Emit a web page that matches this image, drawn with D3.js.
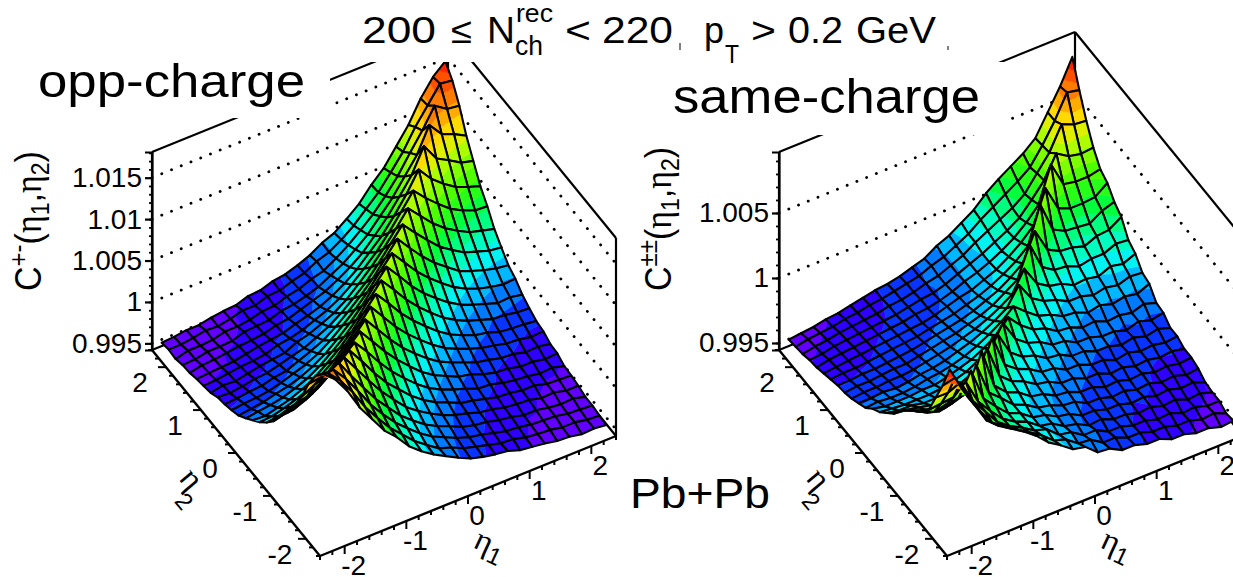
<!DOCTYPE html>
<html>
<head>
<meta charset="utf-8">
<script src="https://cdn.jsdelivr.net/npm/d3@7"></script>
<style>
  body { margin: 0; background: #fff; }
  svg { display: block; font-family: "Liberation Sans", sans-serif; }
</style>
</head>
<body>
<svg id="chart" width="1233" height="577"></svg>
<script>
// bin centres, same for eta1 and eta2
var etaCentres = [-2.3,-2.1,-1.9,-1.7,-1.5,-1.3,-1.1,-0.9,-0.7,-0.5,-0.3,-0.1,0.1,0.3,0.5,0.7,0.9,1.1,1.3,1.5,1.7,1.9,2.1,2.3];
var etaTicks = [-2,-1,0,1,2];
var oppZTicks = [0.995,1,1.005,1.01,1.015];
var sameZTicks = [0.995,1,1.005];

// C(eta1,eta2), (C-1)*10^4, rows are eta2, columns are eta1
var oppCharge = [
[154,141,121,95,75,55,41,24,12,2,-6,-14,-21,-25,-28,-30,-35,-37,-39,-42,-43,-46,-45,-47],
[141,138,123,103,79,60,42,28,14,3,-7,-12,-19,-23,-27,-31,-32,-36,-38,-39,-42,-42,-45,-46],
[121,123,126,109,88,66,48,32,19,7,-3,-10,-17,-22,-25,-29,-33,-34,-37,-38,-39,-42,-43,-44],
[95,103,109,118,96,76,56,40,24,12,1,-7,-13,-20,-24,-26,-30,-32,-36,-36,-39,-41,-40,-44],
[75,79,88,96,108,88,68,49,33,18,7,-2,-10,-16,-20,-25,-27,-31,-33,-34,-38,-37,-41,-41],
[55,60,66,76,88,100,81,61,43,29,15,4,-5,-11,-18,-21,-25,-29,-30,-33,-33,-37,-38,-39],
[41,42,48,56,68,81,93,76,57,40,26,13,2,-6,-12,-17,-23,-24,-28,-31,-32,-35,-34,-38],
[24,28,32,40,49,61,76,90,72,54,38,24,11,1,-6,-13,-16,-22,-26,-27,-31,-31,-34,-33],
[12,14,19,24,33,43,57,72,88,70,52,36,23,11,1,-6,-12,-18,-21,-25,-26,-30,-29,-32],
[2,3,7,12,18,29,40,54,70,87,69,51,36,23,11,1,-6,-12,-17,-20,-24,-25,-28,-27],
[-6,-7,-3,1,7,15,26,38,52,69,86,69,51,36,23,11,1,-6,-12,-15,-20,-22,-23,-25],
[-14,-12,-10,-7,-2,4,13,24,36,51,69,86,69,51,36,23,11,2,-5,-10,-15,-16,-19,-20],
[-21,-19,-17,-13,-10,-5,2,11,23,36,51,69,86,69,51,36,24,13,4,-2,-7,-12,-11,-14],
[-25,-23,-22,-20,-16,-11,-6,1,11,23,36,51,69,86,69,52,38,26,15,7,1,-3,-6,-5],
[-28,-27,-25,-24,-20,-18,-12,-6,1,11,23,36,51,69,87,70,54,40,29,18,12,7,3,1],
[-30,-31,-29,-26,-25,-21,-17,-13,-6,1,11,23,36,52,70,88,72,57,43,33,24,19,14,12],
[-35,-32,-33,-30,-27,-25,-23,-16,-12,-6,1,11,24,38,54,72,91,76,61,49,40,32,28,24],
[-37,-36,-34,-32,-31,-29,-24,-22,-18,-12,-6,2,13,26,40,57,76,96,81,68,56,48,42,41],
[-39,-38,-37,-36,-33,-30,-28,-26,-21,-17,-12,-5,4,15,29,43,61,81,105,88,76,66,60,55],
[-42,-39,-38,-36,-34,-33,-31,-27,-25,-20,-15,-10,-2,7,18,33,49,68,88,117,96,88,79,75],
[-43,-42,-39,-39,-38,-33,-32,-31,-26,-24,-20,-15,-7,1,12,24,40,56,76,96,126,109,103,95],
[-46,-42,-42,-41,-37,-37,-35,-31,-30,-25,-22,-16,-12,-3,7,19,32,48,66,88,109,133,123,121],
[-45,-45,-43,-40,-41,-38,-34,-34,-29,-28,-23,-19,-11,-6,3,14,28,42,60,79,103,123,143,141],
[-47,-46,-44,-44,-41,-39,-38,-33,-32,-27,-25,-20,-14,-5,1,12,24,41,55,75,95,121,141,154]
];

var sameCharge = [
[83,64,48,32,24,18,12,5,-4,-10,-17,-19,-27,-28,-33,-33,-36,-36,-40,-40,-43,-43,-46,-45],
[64,66,48,33,20,13,7,1,-5,-13,-16,-23,-24,-30,-30,-34,-34,-37,-37,-40,-40,-43,-42,-46],
[48,48,52,34,22,10,3,-2,-8,-11,-19,-21,-27,-27,-32,-32,-35,-35,-38,-37,-41,-40,-43,-43],
[32,33,34,42,23,12,2,-4,-8,-15,-17,-23,-25,-30,-29,-33,-33,-36,-35,-38,-37,-41,-40,-43],
[24,20,22,23,40,15,5,-4,-8,-15,-17,-22,-24,-29,-29,-32,-32,-35,-34,-37,-36,-39,-38,-42],
[18,13,10,12,15,34,9,1,-8,-12,-18,-20,-24,-25,-30,-30,-33,-32,-35,-34,-37,-36,-39,-38],
[12,7,3,2,5,9,34,4,-5,-9,-16,-18,-23,-24,-28,-28,-32,-31,-34,-33,-36,-35,-37,-36],
[5,1,-2,-4,-3,0,4,26,1,-7,-11,-17,-19,-24,-24,-28,-28,-32,-31,-34,-33,-35,-34,-36],
[-4,-5,-7,-9,-9,-7,-4,1,24,-1,-8,-12,-18,-19,-24,-24,-28,-28,-32,-30,-33,-32,-34,-33],
[-10,-12,-12,-14,-14,-13,-10,-6,-1,16,-2,-9,-12,-18,-19,-24,-24,-28,-28,-31,-29,-32,-30,-33],
[-16,-17,-18,-18,-18,-17,-15,-12,-7,-2,14,-2,-9,-12,-18,-19,-24,-24,-27,-27,-30,-27,-30,-28],
[-20,-22,-22,-22,-21,-21,-19,-16,-13,-8,-2,8,-2,-9,-12,-18,-19,-23,-22,-26,-25,-27,-24,-27],
[-26,-25,-26,-26,-25,-23,-22,-20,-17,-13,-8,-2,6,-2,-9,-12,-17,-18,-22,-20,-23,-21,-23,-19],
[-29,-29,-28,-29,-28,-26,-25,-23,-20,-17,-13,-8,-2,12,-2,-8,-11,-16,-16,-19,-17,-19,-16,-17],
[-32,-31,-31,-30,-30,-29,-27,-25,-23,-20,-17,-13,-8,-2,14,-1,-7,-9,-14,-13,-15,-11,-13,-9],
[-34,-33,-33,-32,-31,-31,-29,-27,-25,-23,-20,-17,-13,-7,-1,22,1,-5,-6,-10,-8,-8,-4,-5],
[-35,-35,-34,-34,-33,-32,-31,-29,-27,-25,-23,-20,-16,-12,-6,1,22,4,-1,-2,-5,-1,0,6],
[-37,-36,-36,-35,-34,-33,-32,-31,-29,-27,-25,-22,-19,-15,-10,-4,4,32,9,4,3,2,8,11],
[-39,-38,-37,-36,-35,-34,-33,-32,-31,-29,-26,-23,-21,-17,-13,-7,0,9,34,15,11,11,12,19],
[-41,-39,-38,-37,-36,-35,-34,-33,-31,-30,-28,-25,-21,-18,-14,-9,-3,5,15,42,23,21,21,23],
[-42,-41,-39,-38,-37,-36,-35,-34,-32,-30,-29,-26,-22,-18,-14,-9,-4,2,12,23,40,34,32,33],
[-44,-42,-41,-39,-38,-37,-36,-34,-33,-31,-28,-26,-22,-18,-12,-7,-2,3,10,22,34,52,48,47],
[-45,-43,-42,-41,-39,-38,-36,-35,-33,-31,-29,-25,-22,-17,-12,-5,1,7,13,20,33,48,66,64],
[-46,-45,-44,-42,-41,-39,-37,-35,-34,-32,-29,-26,-20,-16,-10,-4,5,12,18,24,32,48,64,83]
];

// colours of the palette against height fraction
var paletteStops = [0,0.09,0.125,0.155,0.2,0.26,0.31,0.39,0.47,0.56,0.66,0.76,0.87,0.97,1];
var paletteColours = ["#6a00ff","#6000ff","#3000ff","#1010ff","#0060ff","#00a0ff","#00f0ff","#00ffb0","#00ff40","#40ff00","#a0ff00","#ffe800","#ff8000","#ff2800","#ff1000"];
var nBands = 20;

var svg = d3.select("#chart");
var width = 1233, height = 577;
var wallH = 198;

var palette = d3.scaleLinear().domain(paletteStops).range(paletteColours).clamp(true);
var etaDomain = [-2.4, 2.4];

// one side of the clip of a polygon by a z level
function clipLevel(poly, level, keepAbove) {
    var out = [];
    poly.forEach(function(p, i) {
        var q = poly[(i + 1) % poly.length];
        var pIn = keepAbove ? p.z >= level : p.z <= level;
        var qIn = keepAbove ? q.z >= level : q.z <= level;
        if (pIn) out.push(p);
        if (pIn !== qIn) {
            var t = (level - p.z) / (q.z - p.z);
            out.push({ x: p.x + t * (q.x - p.x), y: p.y + t * (q.y - p.y), z: level });
        }
    });
    return out;
}

var polyLine = d3.line().x(function(d) { return d.x; }).y(function(d) { return d.y; }).curve(d3.curveLinearClosed);

function drawPanel(cfg) {
    var g = svg.append("g");
    var ox = cfg.bx, oy = cfg.by; // bottom corner of the floor

    var x1 = d3.scaleLinear().domain(etaDomain).range([0, 296]);
    var y1 = d3.scaleLinear().domain(etaDomain).range([0, -120]);
    var x2 = d3.scaleLinear().domain(etaDomain).range([0, -168]);
    var y2 = d3.scaleLinear().domain(etaDomain).range([0, -206]);
    var lift = d3.scaleLinear().domain([cfg.zMin, cfg.zMax]).range([0, -wallH]);

    function project(e1, e2, z) {
        return { x: ox + x1(e1) + x2(e2), y: oy + y1(e1) + y2(e2) + lift(z), z: z };
    }
    function seg(a, b, w, dotted) {
        return g.append("line").attr("x1", a.x).attr("y1", a.y).attr("x2", b.x).attr("y2", b.y)
            .attr("stroke", "#000").attr("stroke-width", w)
            .attr("stroke-dasharray", dotted ? "0.1 10.4" : null)
            .attr("stroke-linecap", dotted ? "round" : "butt");
    }

    var lo = -2.4, hi = 2.4;
    var zb = cfg.zMin, zt = cfg.zMax;

    // dotted lines on the two walls
    cfg.zTicks.forEach(function(z) {
        seg(project(lo, hi, z), project(hi, hi, z), 2.8, true);
        seg(project(hi, hi, z), project(hi, lo, z), 2.8, true);
    });

    // box
    seg(project(lo, hi, zb), project(hi, hi, zb), 2.2);
    seg(project(hi, lo, zb), project(hi, hi, zb), 2.2);
    seg(project(lo, hi, zb), project(lo, hi, zt), 2.2);
    seg(project(lo, hi, zt), project(hi, hi, zt), 2.2);
    seg(project(hi, hi, zt), project(hi, lo, zt), 2.2);
    seg(project(hi, hi, zb), project(hi, hi, zt), 2.2);
    seg(project(hi, lo, zb), project(hi, lo, zt), 2.2);

    // floor edges with ticks
    seg(project(lo, hi, zb), project(lo, lo, zb), 2.4);
    seg(project(lo, lo, zb), project(hi, lo, zb), 2.4);
    d3.range(-24, 25, 2).map(function(d) { return d / 10; }).forEach(function(e) {
        var major = e % 1 === 0;
        var a = project(lo, e, zb);
        g.append("line").attr("x1", a.x).attr("y1", a.y).attr("x2", a.x - (major ? 8 : 4)).attr("y2", a.y)
            .attr("stroke", "#000").attr("stroke-width", 2);
        var b = project(e, lo, zb);
        g.append("line").attr("x1", b.x).attr("y1", b.y).attr("x2", b.x).attr("y2", b.y + (major ? 8 : 4))
            .attr("stroke", "#000").attr("stroke-width", 2);
    });
    etaTicks.forEach(function(e) {
        var a = project(lo, e, zb);
        g.append("text").attr("x", a.x - 26).attr("y", a.y + 25).attr("text-anchor", "middle")
            .attr("font-size", 28).text(e);
        var b = project(e, lo, zb);
        g.append("text").attr("x", b.x + 9).attr("y", b.y + 29).attr("text-anchor", "middle")
            .attr("font-size", 28).text(e);
    });

    // z axis
    var zScale = d3.scaleLinear().domain([cfg.zMin, cfg.zMax]).range([oy + y2(hi), oy + y2(hi) - wallH]);
    var zAxis = d3.axisLeft(zScale).tickValues(cfg.zTicks).tickSize(7).tickPadding(3).tickFormat(function(d) { return String(d); });
    var zg = g.append("g").attr("transform", "translate(" + (ox + x2(hi)) + ",0)").call(zAxis);
    zg.selectAll("text").attr("font-size", 28).attr("font-family", "Liberation Sans").attr("fill", "#000");
    zg.selectAll("line,path").attr("stroke", "#000").attr("stroke-width", 2.2);
    var zMinor = d3.axisLeft(zScale).tickValues(d3.range(0.995, cfg.zMax, 0.001)).tickSize(3).tickFormat("");
    var zm = g.append("g").attr("transform", "translate(" + (ox + x2(hi)) + ",0)").call(zMinor);
    zm.select("path").remove();
    zm.selectAll("line").attr("stroke", "#000").attr("stroke-width", 1.8);

    // band edges for the surf colours
    var levels = d3.range(nBands + 1).map(function(i) { return cfg.zMin + (cfg.zPeak - cfg.zMin) * i / nBands; });
    levels[nBands] = 2;
    levels[0] = 0;
    var cells = [];
    // far cells first
    for (var j = 22; j >= 0; j--) {
        for (var i = 22; i >= 0; i--) {
            var quad = [[i, j], [i + 1, j], [i + 1, j + 1], [i, j + 1]].map(function(n) {
                return project(etaCentres[n[0]], etaCentres[n[1]], 1 + cfg.values[n[1]][n[0]] / 10000);
            });
            var bands = [];
            for (var b = 0; b < nBands; b++) {
                var poly = clipLevel(clipLevel(quad, levels[b], true), levels[b + 1], false);
                if (poly.length > 2) {
                    bands.push({ pts: poly, colour: palette((b + 0.5) / nBands) });
                }
            }
            cells.push({ quad: quad, bands: bands });
        }
    }

    var cell = g.selectAll(".cell").data(cells).enter().append("g").attr("class", "cell");
    cell.selectAll("path.band")
        .data(function(d) { return d.bands; })
        .enter().append("path")
        .attr("class", "band")
        .attr("d", function(d) { return polyLine(d.pts); })
        .attr("fill", function(d) { return d.colour; })
        .attr("stroke", function(d) { return d.colour; })
        .attr("stroke-width", 0.5);
    cell.append("path")
        .attr("d", function(d) { return polyLine(d.quad); })
        .attr("fill", "none")
        .attr("stroke", "#000")
        .attr("stroke-width", 2.1)
        .attr("stroke-linejoin", "round");
}

drawPanel({ bx: 320, by: 556, zMin: 0.9942, zMax: 1.0181, zPeak: 1.0157, values: oppCharge, zTicks: oppZTicks });
drawPanel({ bx: 947, by: 556, zMin: 0.99446, zMax: 1.00969, zPeak: 1.0082, values: sameCharge, zTicks: sameZTicks });

// white boxes behind the labels
function mask(x, y, w, h) {
    svg.append("rect").attr("x", x).attr("y", y).attr("width", w).attr("height", h).attr("fill", "#fff");
}
mask(350, 0, 595, 62);
mask(25, 55, 305, 63);
mask(660, 62, 346, 73);

function label(x, y, s, size, w, family) {
    var t = svg.append("text").attr("x", x).attr("y", y).attr("font-size", size).text(s);
    if (w) t.attr("textLength", w).attr("lengthAdjust", "spacingAndGlyphs");
    if (family) t.attr("font-family", family);
    return t;
}

// title
label(362, 43, "200", 36, 74);
label(451, 43, "≤", 36, 21);
label(487, 43, "N", 36, 28);
label(516, 22, "rec", 25, 37);
label(515, 55, "ch", 27, 28);
label(565, 43, "<", 36, 26);
label(602, 43, "220", 36, 71);
label(704, 43, "p", 36, 20);
label(725, 63, "T", 25, 14);
label(751, 43, ">", 36, 25);
label(788, 43, "0.2", 36, 55);
label(856, 43, "GeV", 36, 80);
svg.append("line").attr("x1", 680).attr("y1", 43).attr("x2", 680).attr("y2", 50).attr("stroke", "#000");
svg.append("line").attr("x1", 948).attr("y1", 46).attr("x2", 948).attr("y2", 50).attr("stroke", "#000");

label(38, 97, "opp-charge", 47, 267);
label(673, 113, "same-charge", 49, 307);
label(630, 508, "Pb+Pb", 42, 140);

// z titles, rotated
function zTitle(x, sup) {
    var t = svg.append("text").attr("transform", "translate(" + x + ",291) scale(1.1,1) rotate(-90)").attr("font-size", 34);
    t.append("tspan").text("C");
    t.append("tspan").attr("font-size", 24).attr("dy", -13).text(sup);
    t.append("tspan").attr("dy", 13).text("(");
    t.append("tspan").attr("font-family", "Liberation Serif").text("η");
    t.append("tspan").attr("font-size", 23).attr("dy", 7).text("1");
    t.append("tspan").attr("dy", -7).text(",");
    t.append("tspan").attr("font-family", "Liberation Serif").text("η");
    t.append("tspan").attr("font-size", 23).attr("dy", 7).text("2");
    t.append("tspan").attr("dy", -7).text(")");
}
zTitle(41, "+-");
zTitle(671, "±±");

// slanted eta titles
function etaTitle(x, y, sub, angle, subDrop, subShift) {
    var t = svg.append("text").attr("transform", "translate(" + x + "," + y + ") rotate(" + angle + ")")
        .attr("font-size", 33).attr("font-family", "Liberation Serif");
    t.append("tspan").text("η");
    t.append("tspan").attr("font-family", "Liberation Sans").attr("font-size", 24)
        .attr("dx", subShift).attr("dy", subDrop).text(sub);
}
etaTitle(472, 547, "1", 25, 7, 0);
etaTitle(1099, 547, "1", 25, 7, 0);
etaTitle(178, 479, "2", 50, 18, -3);
etaTitle(805, 479, "2", 50, 18, -3);
</script>
</body>
</html>
